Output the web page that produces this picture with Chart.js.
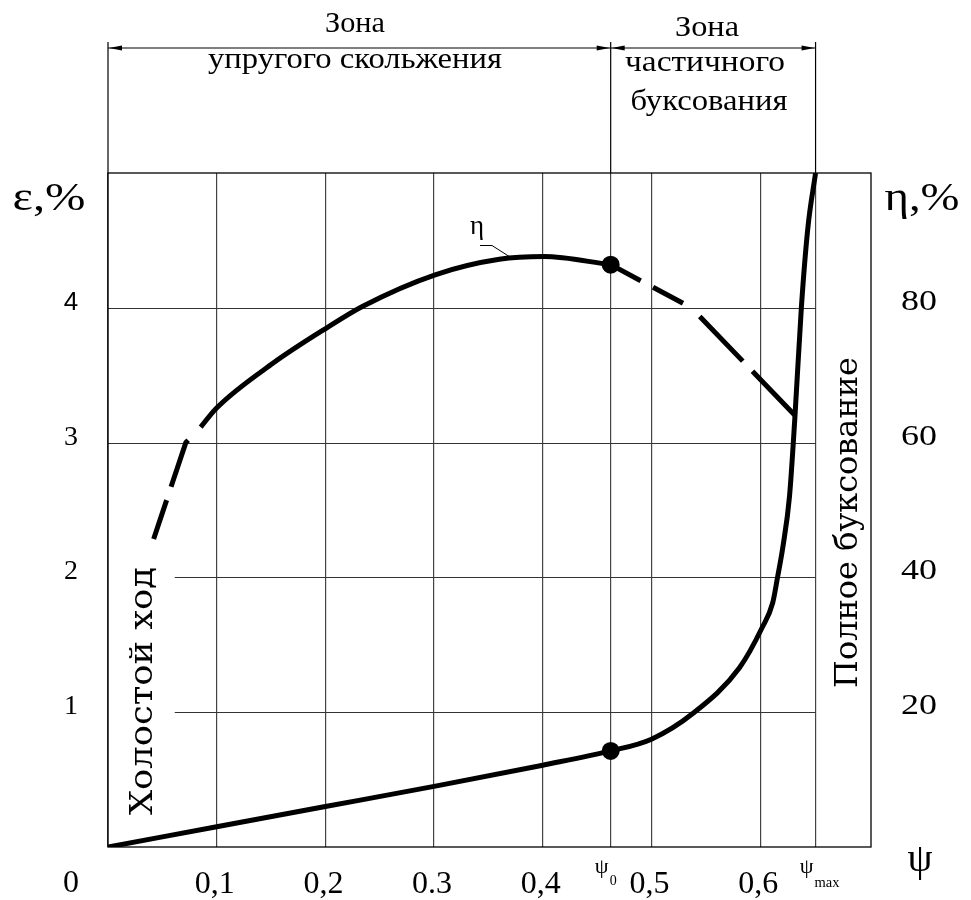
<!DOCTYPE html>
<html>
<head>
<meta charset="utf-8">
<script src="https://cdn.jsdelivr.net/npm/chart.js@4/dist/chart.umd.min.js"></script>
<style>
  html, body { margin: 0; padding: 0; background: #fff; }
  #wrap { width: 971px; height: 900px; }
</style>
</head>
<body>
<div id="wrap"><canvas id="myChart" width="971" height="900"></canvas></div>
<script>
//Axis ticks and labels:
const psi0 = 0.4625;
const psiMax = 0.651;
const psiGrid = [0, 0.1, 0.2, 0.3, 0.4, psi0, 0.5, 0.6, psiMax];
const psiLabelValues = [0.1, 0.2, 0.3, 0.4, 0.5, 0.6];
const psiLabels = ['0,1', '0,2', '0.3', '0,4', '0,5', '0,6'];
const epsTicks = [1, 2, 3, 4];
const etaTicks = [20, 40, 60, 80];

//Slip curve (ε, %):
const epsPsi = [0, 0.1, 0.2, 0.3, 0.4, psi0, 0.5, 0.538, 0.581, 0.602, 0.6115, 0.616, 0.621, 0.627, 0.632, 0.638, 0.644, psiMax];
const epsValues = [0, 0.15, 0.30, 0.45, 0.607, 0.713, 0.80, 0.99, 1.33, 1.63, 1.81, 2.0, 2.23, 2.6, 3.19, 4.01, 4.6, 5.0];

//Efficiency curve (η, %), split by line style:
const etaIdlePsi = [0.042, 0.0716, 0.0853];
const etaIdleValues = [45.7, 60.0, 62.3];
const etaPsi = [0.0853, 0.0997, 0.152, 0.201, 0.234, 0.301, 0.36, 0.401, psi0];
const etaValues = [62.3, 65.1, 71.8, 77.0, 80.2, 84.9, 87.2, 87.6, 86.4];
const etaSlipPsiA = [psi0, 0.5368];
const etaSlipValuesA = [86.4, 80.0];
const etaSlipPsiB = [0.5368, 0.6317];
const etaSlipValuesB = [80.0, 64.1];

const zip = (xs, ys) => xs.map((x, i) => ({x: x, y: ys[i]}));

const SERIF = '"Liberation Serif", "Times New Roman", serif';

//Text helper, w = wanted width (stretches horizontally)
function txt(ctx, s, x, y, font, w, align) {
    ctx.save();
    ctx.font = font;
    ctx.textBaseline = 'alphabetic';
    ctx.textAlign = align || 'center';
    const m = ctx.measureText(s).width;
    ctx.translate(x, y);
    if (w) ctx.scale(w / m, 1);
    ctx.fillText(s, 0, 0);
    ctx.restore();
}

//Vertical text, reading bottom to top, fitted to length
function vtxt(ctx, s, x, y, font, len) {
    ctx.save();
    ctx.font = font;
    ctx.textBaseline = 'alphabetic';
    ctx.textAlign = 'left';
    const m = ctx.measureText(s).width;
    ctx.translate(x, y);
    ctx.rotate(-Math.PI / 2);
    ctx.scale(len / m, 1);
    ctx.fillText(s, 0, 0);
    ctx.restore();
}

function arrowHead(ctx, x, y, dir) {
    ctx.beginPath();
    ctx.moveTo(x, y);
    ctx.lineTo(x - dir * 13, y - 2.5);
    ctx.lineTo(x - dir * 13, y + 2.5);
    ctx.closePath();
    ctx.fill();
}

const overlay = {
    id: 'overlay',
    beforeDatasetsDraw(chart) {
        const {ctx, chartArea: a, scales: {x, y}} = chart;
        ctx.save();
        ctx.strokeStyle = '#333';
        ctx.lineWidth = 1.2;
        epsTicks.forEach(v => {
            const py = Math.round(y.getPixelForValue(v)) + 0.5;
            const x0 = v <= 2 ? x.getPixelForValue(0.0614) : a.left;
            ctx.beginPath();
            ctx.moveTo(x0, py);
            ctx.lineTo(x.getPixelForValue(psiMax), py);
            ctx.stroke();
        });
        ctx.restore();
    },
    afterDatasetsDraw(chart) {
        const {ctx, chartArea: a, scales: {x, y, y2}} = chart;
        ctx.save();
        ctx.fillStyle = '#000';
        ctx.strokeStyle = '#000';

        //frame
        ctx.lineWidth = 1.3;
        ctx.strokeRect(a.left, a.top, a.right - a.left, a.bottom - a.top);

        //zone marks on top
        const xL = x.getPixelForValue(0), xM = x.getPixelForValue(psi0), xR = x.getPixelForValue(psiMax);
        ctx.lineWidth = 1.2;
        [xL, xM, xR].forEach(px => {
            ctx.beginPath();
            ctx.moveTo(px, 42);
            ctx.lineTo(px, a.top);
            ctx.stroke();
        });
        ctx.beginPath();
        ctx.moveTo(xL, 48);
        ctx.lineTo(xR, 48);
        ctx.stroke();
        arrowHead(ctx, xL + 1, 48, -1);
        arrowHead(ctx, xM - 1, 48, 1);
        arrowHead(ctx, xM + 1, 48, -1);
        arrowHead(ctx, xR - 1, 48, 1);

        txt(ctx, 'Зона', 355, 32, '30px ' + SERIF, 60);
        txt(ctx, 'упругого скольжения', 355, 68, '30px ' + SERIF, 294);
        txt(ctx, 'Зона', 707, 36, '30px ' + SERIF, 64);
        txt(ctx, 'частичного', 705, 71, '30px ' + SERIF, 160);
        txt(ctx, 'буксования', 709, 110, '30px ' + SERIF, 157);

        //axis titles
        txt(ctx, 'ε,%', 49, 210, '40px ' + SERIF, 73);
        txt(ctx, 'η,%', 922, 210, '40px ' + SERIF, 75);
        txt(ctx, 'ψ', 920, 871, '40px ' + SERIF);

        //left ticks
        epsTicks.forEach(v => {
            const py = y.getPixelForValue(v) + 2;
            if (v === 4) txt(ctx, String(v), 71, py, '26px "Liberation Sans", Arial, sans-serif');
            else txt(ctx, String(v), 71, py, '28px ' + SERIF);
        });
        //right ticks
        etaTicks.forEach(v => {
            txt(ctx, String(v), 919, y2.getPixelForValue(v) + 2, '29px ' + SERIF, 36);
        });
        //bottom ticks
        txt(ctx, '0', 71, 892, '32px ' + SERIF);
        psiLabelValues.forEach((v, i) => {
            txt(ctx, psiLabels[i], x.getPixelForValue(v) - 2, 893, '32px ' + SERIF);
        });
        txt(ctx, 'ψ', xM - 9, 873, '22px ' + SERIF);
        txt(ctx, '0', xM - 1, 885, '14px ' + SERIF, null, 'left');
        txt(ctx, 'ψ', xR - 9, 873, '22px ' + SERIF);
        txt(ctx, 'max', xR - 1, 887, '14px ' + SERIF, 25, 'left');

        //η leader
        txt(ctx, 'η', 477, 234, '27px ' + SERIF);
        ctx.lineWidth = 1;
        ctx.beginPath();
        ctx.moveTo(480, 245.5);
        ctx.lineTo(492, 245.5);
        ctx.lineTo(510, 257);
        ctx.stroke();

        //vertical captions
        vtxt(ctx, 'Холостой ход', 152, 815, '31px "DejaVu Serif", serif', 248);
        vtxt(ctx, 'Полное буксование', 857, 688, '31px "DejaVu Serif", serif', 331);
        ctx.restore();
    }
};

const line = {
    showLine: true,
    borderColor: '#000',
    backgroundColor: '#000',
    borderWidth: 5,
    pointRadius: 0,
    pointHoverRadius: 0,
    borderJoinStyle: 'round'
};

const dotAtPsi0 = c => (c.raw && c.raw.x === psi0 ? 6.5 : 0);

const ctx = document.getElementById('myChart').getContext('2d');

const chart = new Chart(ctx, {
    type: 'scatter',
    data: {
        datasets: [
            {...line, label: 'ε', yAxisID: 'y', data: zip(epsPsi, epsValues),
                cubicInterpolationMode: 'monotone', pointRadius: dotAtPsi0},
            {...line, label: 'η idle', yAxisID: 'y2', data: zip(etaIdlePsi, etaIdleValues),
                borderDash: [41, 14, 50, 30]},
            {...line, label: 'η', yAxisID: 'y2', data: zip(etaPsi, etaValues),
                cubicInterpolationMode: 'monotone', pointRadius: dotAtPsi0},
            {...line, label: 'η slip A', yAxisID: 'y2', data: zip(etaSlipPsiA, etaSlipValuesA),
                borderDash: [34, 14]},
            {...line, label: 'η slip B', yAxisID: 'y2', data: zip(etaSlipPsiB, etaSlipValuesB),
                borderDash: [62, 14], borderDashOffset: 64}
        ]
    },
    options: {
        responsive: false,
        animation: false,
        devicePixelRatio: 1,
        layout: { padding: { left: 108, right: 100, top: 173, bottom: 53 } },
        plugins: { legend: { display: false }, tooltip: { enabled: false } },
        events: [],
        scales: {
            x: {
                type: 'linear', min: 0, max: 0.702,
                afterBuildTicks: s => { s.ticks = psiGrid.map(v => ({value: v})) },
                afterFit: s => { s.height = 0 },
                grid: { color: '#444', lineWidth: 1.2, drawTicks: false },
                border: { display: false },
                ticks: { display: false }
            },
            y: { min: 0, max: 5, display: false },
            y2: { min: 0, max: 100, display: false, position: 'right' }
        }
    },
    plugins: [overlay]
});
</script>
</body>
</html>
